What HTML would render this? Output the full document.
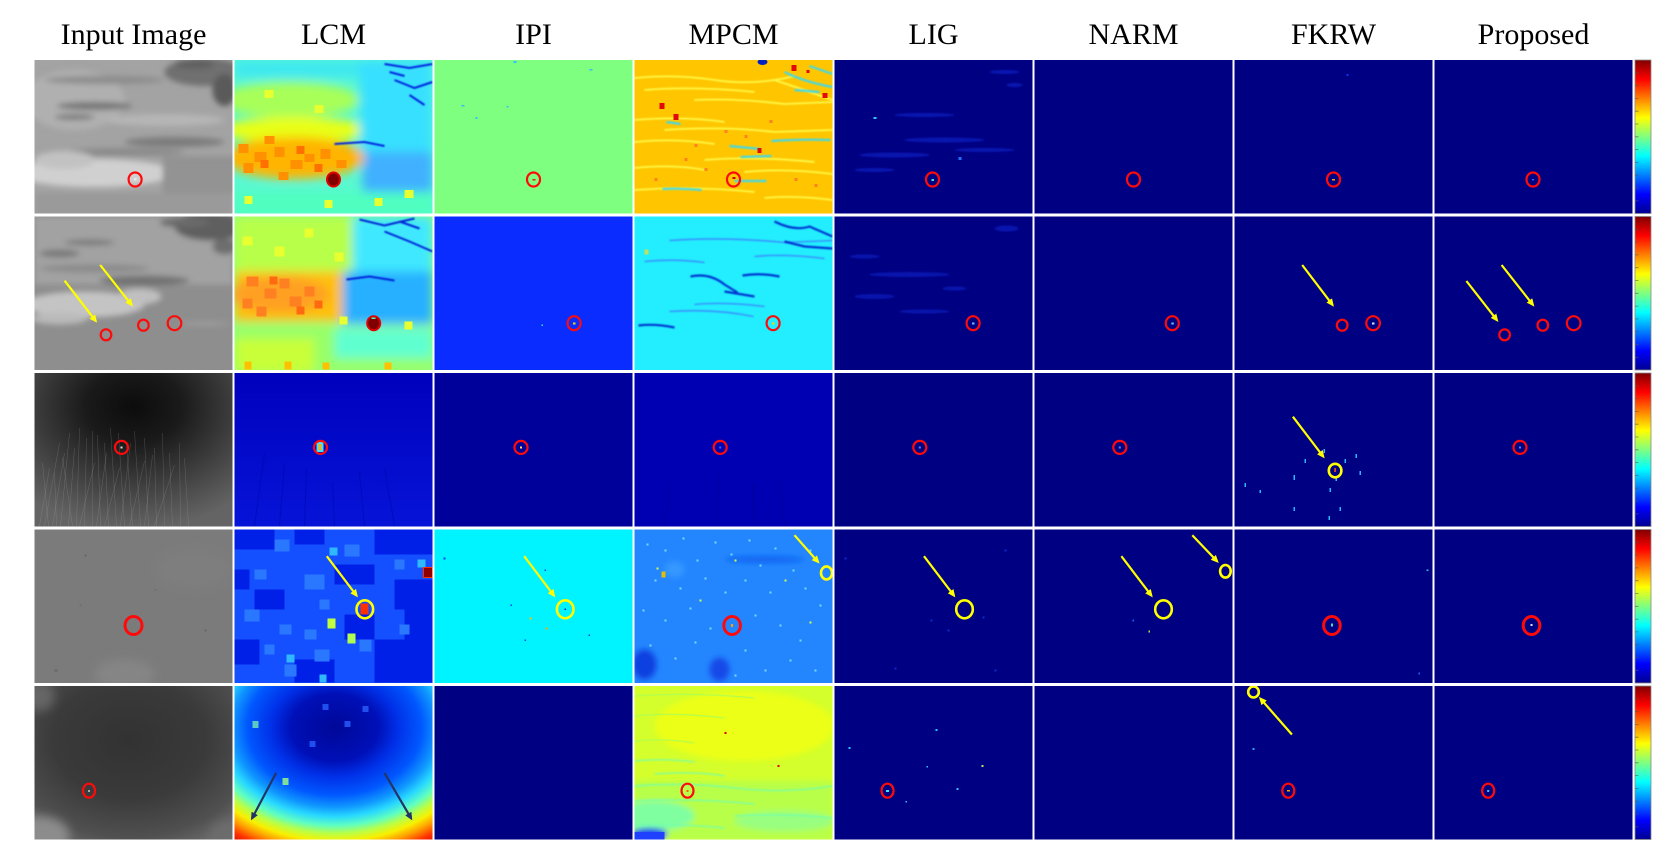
<!DOCTYPE html>
<html><head><meta charset="utf-8"><style>html,body{margin:0;padding:0;background:#fff}svg{display:block}</style></head><body>
<svg width="1678" height="850" viewBox="0 0 1678 850" xmlns="http://www.w3.org/2000/svg">
<defs>
<style>
.rc{fill:none;stroke:#ff0a0a;stroke-width:2.2}
.rc3{fill:none;stroke:#ff0a0a;stroke-width:3}
.yc{fill:none;stroke:#ffff00;stroke-width:2.6}
.ya{stroke:#ffff00;stroke-width:2.2;marker-end:url(#ay)}
.da{stroke:#233466;stroke-width:2.2;marker-end:url(#ad)}
.nv{fill:#000083}
.t{font-family:"Liberation Serif","Times New Roman",serif;font-size:30px;fill:#000;text-anchor:middle}
</style>
<filter id="b1" x="-20%" y="-20%" width="140%" height="140%"><feGaussianBlur stdDeviation="0.8"/></filter>
<filter id="b3" x="-20%" y="-20%" width="140%" height="140%"><feGaussianBlur stdDeviation="3"/></filter>
<filter id="b5" x="-20%" y="-20%" width="140%" height="140%"><feGaussianBlur stdDeviation="5"/></filter>
<linearGradient id="jet" x1="0" y1="1" x2="0" y2="0">
<stop offset="0" stop-color="#000090"/><stop offset=".125" stop-color="#0000ff"/><stop offset=".375" stop-color="#00ffff"/><stop offset=".625" stop-color="#ffff00"/><stop offset=".875" stop-color="#ff0000"/><stop offset="1" stop-color="#800000"/>
</linearGradient>
<radialGradient id="lcm5" cx=".505" cy=".27" r="1" fx=".505" fy=".27">
<stop offset="0" stop-color="#000898"/><stop offset=".22" stop-color="#0010b8"/><stop offset=".32" stop-color="#0030e8"/><stop offset=".44" stop-color="#0058ff"/><stop offset=".52" stop-color="#1098ff"/><stop offset=".58" stop-color="#28d8ff"/><stop offset=".64" stop-color="#60ffc0"/><stop offset=".69" stop-color="#b8ff48"/><stop offset=".74" stop-color="#f8f000"/><stop offset=".79" stop-color="#ffa000"/><stop offset=".85" stop-color="#ff3000"/><stop offset=".92" stop-color="#c00000"/><stop offset="1" stop-color="#800000"/>
</radialGradient>
<radialGradient id="g3" cx=".5" cy=".22" r=".8"><stop offset="0" stop-color="#0c0c0c"/><stop offset=".3" stop-color="#1a1a1a"/><stop offset=".6" stop-color="#3a3a3a"/><stop offset=".85" stop-color="#555"/><stop offset="1" stop-color="#646464"/></radialGradient>
<radialGradient id="g5" cx=".48" cy=".35" r=".85"><stop offset="0" stop-color="#323232"/><stop offset=".45" stop-color="#3a3a3a"/><stop offset=".75" stop-color="#505050"/><stop offset="1" stop-color="#7a7a7a"/></radialGradient>
<linearGradient id="g3b" x1="0" y1="0" x2="0" y2="1"><stop offset="0" stop-color="#0000bc"/><stop offset="1" stop-color="#0614d8"/></linearGradient>
<marker id="ay" viewBox="0 0 10 10" refX="7" refY="5" markerWidth="3.6" markerHeight="3.6" orient="auto"><path d="M0,0.5 L10,5 L0,9.5 z" fill="#ffff00"/></marker>
<marker id="ad" viewBox="0 0 10 10" refX="7" refY="5" markerWidth="3.6" markerHeight="3.6" orient="auto"><path d="M0,0.5 L10,5 L0,9.5 z" fill="#233466"/></marker>
</defs>
<rect width="1678" height="850" fill="#fff"/>

<!-- titles -->
<text class="t" x="133.5" y="44">Input Image</text>
<text class="t" x="333.5" y="44">LCM</text>
<text class="t" x="533.5" y="44">IPI</text>
<text class="t" x="733.5" y="44">MPCM</text>
<text class="t" x="933.5" y="44">LIG</text>
<text class="t" x="1133.5" y="44">NARM</text>
<text class="t" x="1333.5" y="44">FKRW</text>
<text class="t" x="1533.5" y="44">Proposed</text>

<!-- ================= ROW 1 ================= -->
<svg x="34.5" y="60" width="198" height="153.5" viewBox="0 0 198 153.5">
<rect width="198" height="153.5" fill="#a3a3a3"/>
<g filter="url(#b3)">
<ellipse cx="40" cy="40" rx="50" ry="30" fill="#b0b0b0"/>
<ellipse cx="170" cy="12" rx="40" ry="14" fill="#707070"/>
<ellipse cx="190" cy="30" rx="12" ry="16" fill="#5a5a5a"/>
<ellipse cx="160" cy="4" rx="20" ry="5" fill="#606060"/>
<ellipse cx="70" cy="20" rx="60" ry="4" fill="#8c8c8c"/>
<ellipse cx="60" cy="46" rx="38" ry="4" fill="#767676"/>
<ellipse cx="40" cy="57" rx="20" ry="3" fill="#7c7c7c"/>
<ellipse cx="130" cy="60" rx="60" ry="6" fill="#b6b6b6"/>
<ellipse cx="140" cy="82" rx="50" ry="5" fill="#7c7c7c"/>
<ellipse cx="90" cy="92" rx="60" ry="4" fill="#8a8a8a"/>
<ellipse cx="60" cy="113" rx="80" ry="14" fill="#d0d0d0"/>
<ellipse cx="30" cy="100" rx="30" ry="9" fill="#c2c2c2"/>
<rect x="128" y="96" width="80" height="38" fill="#939393"/>
<rect x="0" y="133" width="198" height="25" fill="#9a9a9a"/>
</g>
<ellipse class="rc" cx="100.6" cy="119.5" rx="6.5" ry="7"/>
<rect x="99.5" y="118" width="2.5" height="2.5" fill="#e8e8e8"/>
</svg>

<svg x="234.5" y="60" width="198" height="153.5" viewBox="0 0 198 153.5">
<rect width="198" height="153.5" fill="#58f8d0"/>
<g filter="url(#b5)">
<rect x="0" y="0" width="198" height="18" fill="#40e8f0"/>
<ellipse cx="55" cy="40" rx="70" ry="18" fill="#a8ff58"/>
<ellipse cx="60" cy="70" rx="75" ry="13" fill="#e8ff18"/>
<rect x="125" y="0" width="73" height="95" fill="#38e0ff"/>
<rect x="128" y="92" width="70" height="42" fill="#40b0ff"/>
<ellipse cx="60" cy="98" rx="70" ry="21" fill="#ffb400"/>
<rect x="0" y="132" width="198" height="25" fill="#50ffc0"/>
</g>
<g fill="#ff9000">
<rect x="4" y="84" width="10" height="9"/><rect x="20" y="92" width="12" height="10"/><rect x="40" y="87" width="10" height="10"/>
<rect x="56" y="100" width="12" height="9"/><rect x="9" y="103" width="10" height="10"/><rect x="70" y="94" width="10" height="8"/>
<rect x="86" y="89" width="10" height="10"/><rect x="30" y="76" width="10" height="8"/><rect x="102" y="100" width="10" height="8"/>
<rect x="44" y="112" width="10" height="8"/></g>
<g fill="#ff7000"><rect x="26" y="100" width="8" height="8"/><rect x="62" y="86" width="8" height="8"/><rect x="80" y="104" width="8" height="8"/></g>
<g fill="#e8ff30"><rect x="10" y="136" width="8" height="8"/><rect x="140" y="138" width="8" height="8"/><rect x="170" y="130" width="9" height="8"/><rect x="90" y="140" width="8" height="8"/><rect x="30" y="30" width="9" height="8"/><rect x="80" y="45" width="9" height="8"/></g>
<g fill="none" stroke="#0020e0" stroke-width="2" filter="url(#b1)">
<path d="M150 4 L175 8 L198 4"/><path d="M160 20 L180 28 L198 22"/><path d="M175 35 L190 45"/><path d="M100 84 L130 82 L150 86"/><path d="M155 12 L170 16"/>
</g>
<ellipse cx="99" cy="119.5" rx="6.5" ry="7" fill="#800000" stroke="#e00000" stroke-width="2"/>
</svg>

<svg x="434.5" y="60" width="198" height="153.5" viewBox="0 0 198 153.5">
<rect width="198" height="153.5" fill="#7fff7f"/>
<g fill="#30c0ff"><rect x="79" y="1" width="3" height="2"/><rect x="27" y="45" width="3" height="1.5"/><rect x="72" y="46" width="2" height="1.5"/><rect x="41" y="57" width="2" height="2"/><rect x="155" y="9" width="3" height="1.5"/></g>
<ellipse class="rc" cx="99" cy="119.5" rx="6.5" ry="7"/>
<rect x="98" y="119" width="3" height="1.5" fill="#e02000"/>
</svg>

<svg x="634.5" y="60" width="198" height="153.5" viewBox="0 0 198 153.5">
<rect width="198" height="153.5" fill="#ffc600"/>
<g fill="none" stroke="#ffff50" stroke-width="1.8" opacity=".9" filter="url(#b1)">
<path d="M0 18 Q40 14 80 20 T160 16"/><path d="M10 30 Q60 26 120 32"/><path d="M60 40 Q100 38 150 44 L198 42"/>
<path d="M0 60 Q50 56 90 62"/><path d="M30 70 Q90 66 140 72 L198 70"/><path d="M0 82 Q40 78 80 84"/>
<path d="M70 100 Q120 96 180 102"/><path d="M0 108 Q40 104 70 110"/><path d="M110 112 Q150 108 198 114"/>
<path d="M0 130 Q60 126 120 132"/><path d="M130 138 Q160 135 198 140"/><path d="M140 20 Q170 30 198 40"/>
</g>
<g fill="none" stroke="#40d8e8" stroke-width="2.2" filter="url(#b1)">
<path d="M95 86 L126 89"/><path d="M137 81 Q165 79 196 80"/><path d="M106 97 L137 96"/><path d="M100 121 L132 121"/>
<path d="M28 129 Q45 128 67 130"/><path d="M150 12 Q170 22 198 27"/><path d="M160 30 L185 32"/><path d="M175 6 L198 14"/><path d="M32 62 L46 64"/>
</g>
<g fill="#e00a0a"><rect x="25" y="43" width="5" height="6"/><rect x="39" y="54" width="5" height="6"/><rect x="157" y="5" width="5" height="6"/><rect x="188" y="33" width="5" height="5"/><rect x="123" y="88" width="4" height="5"/><rect x="172" y="10" width="3" height="3"/></g>
<g fill="#ff8020"><rect x="70" y="108" width="3" height="3"/><rect x="50" y="98" width="3" height="3"/><rect x="90" y="70" width="3" height="3"/><rect x="110" y="75" width="3" height="3"/><rect x="135" y="60" width="3" height="3"/><rect x="20" y="118" width="3" height="3"/><rect x="180" y="124" width="3" height="3"/><rect x="60" y="84" width="3" height="3"/><rect x="160" y="118" width="3" height="3"/></g>
<ellipse cx="128" cy="2" rx="5" ry="3" fill="#0020c0"/>
<ellipse class="rc" cx="99" cy="119.5" rx="6.5" ry="7"/>
<rect x="98" y="117" width="3" height="2" fill="#d00000"/>
</svg>

<svg x="834.5" y="60" width="198" height="153.5" viewBox="0 0 198 153.5">
<rect class="nv" width="198" height="153.5"/>
<g fill="#1838f0" opacity=".4" filter="url(#b1)">
<ellipse cx="110" cy="80" rx="40" ry="2.5"/><ellipse cx="60" cy="95" rx="35" ry="2.5"/><ellipse cx="150" cy="90" rx="30" ry="2"/><ellipse cx="40" cy="110" rx="20" ry="2"/><ellipse cx="170" cy="12" rx="15" ry="2"/><ellipse cx="90" cy="55" rx="30" ry="2"/><ellipse cx="180" cy="25" rx="8" ry="2"/>
</g>
<rect x="39" y="57" width="3" height="2" fill="#30c8ff"/><rect x="124" y="97" width="3" height="3" fill="#2070ff"/>
<ellipse class="rc" cx="98" cy="119.5" rx="6.5" ry="7"/>
<rect x="97" y="119" width="2.5" height="2" fill="#40e0e0"/>
</svg>

<svg x="1034.5" y="60" width="198" height="153.5" viewBox="0 0 198 153.5">
<rect class="nv" width="198" height="153.5"/>
<ellipse class="rc" cx="99" cy="119.5" rx="6.5" ry="7"/>
</svg>
<svg x="1234.5" y="60" width="198" height="153.5" viewBox="0 0 198 153.5">
<rect class="nv" width="198" height="153.5"/>
<rect x="112" y="14" width="2" height="2" fill="#1030ff"/>
<ellipse class="rc" cx="99" cy="119.5" rx="6.5" ry="7"/>
<rect x="97.5" y="119" width="3" height="1.5" fill="#ffa000"/>
</svg>
<svg x="1434.5" y="60" width="198" height="153.5" viewBox="0 0 198 153.5">
<rect class="nv" width="198" height="153.5"/>
<ellipse class="rc" cx="98.5" cy="119.5" rx="6.5" ry="7"/>
<rect x="97.5" y="119" width="2" height="1.5" fill="#3060ff"/>
</svg>

<!-- ================= ROW 2 ================= -->
<svg x="34.5" y="216.5" width="198" height="153.5" viewBox="0 0 198 153.5">
<rect width="198" height="153.5" fill="#8e8e8e"/>
<g filter="url(#b3)">
<rect x="0" y="0" width="198" height="68" fill="#a2a2a2"/>
<ellipse cx="175" cy="10" rx="35" ry="14" fill="#5e5e5e"/>
<ellipse cx="150" cy="6" rx="25" ry="5" fill="#6a6a6a"/>
<ellipse cx="190" cy="30" rx="12" ry="8" fill="#6e6e6e"/>
<ellipse cx="55" cy="26" rx="25" ry="3" fill="#7a7a7a"/>
<ellipse cx="25" cy="37" rx="20" ry="4" fill="#7a7a7a"/>
<ellipse cx="110" cy="64" rx="45" ry="5" fill="#727272"/>
<ellipse cx="60" cy="52" rx="55" ry="4" fill="#8a8a8a"/>
<ellipse cx="50" cy="88" rx="60" ry="13" fill="#c4c4c4"/>
<ellipse cx="25" cy="102" rx="28" ry="6" fill="#bababa"/>
<ellipse cx="105" cy="80" rx="22" ry="8" fill="#c0c0c0"/>
<ellipse cx="170" cy="107" rx="25" ry="1.5" fill="#a4a4a4"/>
</g>
<line class="ya" x1="30.1" y1="64.2" x2="61.2" y2="104.4"/>
<line class="ya" x1="65.7" y1="48.5" x2="97" y2="88.3"/>
<ellipse class="rc" cx="71.5" cy="118.3" rx="5.3" ry="5.5"/>
<ellipse class="rc" cx="108.9" cy="108.7" rx="5.3" ry="5.5"/>
<ellipse class="rc" cx="140" cy="106.7" rx="6.8" ry="7"/>
</svg>

<svg x="234.5" y="216.5" width="198" height="153.5" viewBox="0 0 198 153.5">
<rect width="198" height="153.5" fill="#90ff80"/>
<g filter="url(#b5)">
<rect x="0" y="0" width="120" height="55" fill="#b8ff48"/>
<rect x="118" y="0" width="80" height="55" fill="#40e8ff"/>
<rect x="0" y="55" width="108" height="50" fill="#ffc010"/>
<ellipse cx="45" cy="78" rx="50" ry="18" fill="#ffa020"/>
<rect x="108" y="55" width="90" height="55" fill="#28b0ff"/>
<rect x="0" y="108" width="198" height="47" fill="#98ff68"/>
<rect x="100" y="112" width="98" height="30" fill="#60ffd0"/>
<rect x="0" y="122" width="80" height="35" fill="#c8ff38"/>
</g>
<g fill="#ff8020"><rect x="12" y="60" width="12" height="10"/><rect x="30" y="72" width="12" height="10"/><rect x="45" y="62" width="10" height="10"/><rect x="8" y="82" width="10" height="10"/><rect x="55" y="80" width="12" height="10"/><rect x="70" y="70" width="10" height="10"/><rect x="22" y="90" width="10" height="10"/></g>
<g fill="#ff6a10"><rect x="35" y="60" width="8" height="8"/><rect x="62" y="90" width="8" height="8"/><rect x="80" y="84" width="8" height="8"/></g>
<g fill="#e8ff30"><rect x="8" y="20" width="10" height="9"/><rect x="40" y="30" width="10" height="10"/><rect x="70" y="12" width="9" height="9"/><rect x="100" y="36" width="9" height="9"/><rect x="105" y="100" width="8" height="8"/><rect x="170" y="105" width="8" height="8"/></g>
<g fill="#ffc000"><rect x="10" y="145" width="7" height="8"/><rect x="50" y="145" width="7" height="8"/><rect x="88" y="146" width="7" height="7"/><rect x="150" y="146" width="7" height="7"/></g>
<g fill="none" stroke="#0020d8" stroke-width="2" filter="url(#b1)">
<path d="M125 3 L150 9 L180 2"/><path d="M150 15 L175 25 L198 35"/><path d="M112 63 L135 60 L160 64"/><path d="M165 5 L185 12"/>
</g>
<ellipse cx="139.2" cy="106.7" rx="6.5" ry="7" fill="#800000" stroke="#e00000" stroke-width="2"/>
<rect x="137" y="101" width="4" height="1.5" fill="#40ffc0"/>
</svg>

<svg x="434.5" y="216.5" width="198" height="153.5" viewBox="0 0 198 153.5">
<rect width="198" height="153.5" fill="#0a2cff"/>
<ellipse class="rc" cx="139.6" cy="106.7" rx="6.5" ry="7"/>
<rect x="138.5" y="106" width="2.5" height="2" fill="#ffd000"/>
<rect x="107" y="108" width="1.5" height="1.5" fill="#40e0c0"/>
</svg>

<svg x="634.5" y="216.5" width="198" height="153.5" viewBox="0 0 198 153.5">
<rect width="198" height="153.5" fill="#22eeff"/>
<g fill="none" stroke="#3890ff" stroke-width="1.6" filter="url(#b1)">
<path d="M35 24 Q90 20 150 26 L198 24"/><path d="M35 95 Q80 92 119 100"/><path d="M10 45 Q40 42 70 46"/><path d="M60 88 Q90 85 130 90"/><path d="M120 40 Q150 37 190 42"/>
</g>
<g fill="none" stroke="#0030d0" stroke-width="2.2" filter="url(#b1)">
<path d="M56 60 Q75 56 90 68 L103 76"/><path d="M108 59 Q125 56 145 60"/><path d="M4 109 Q20 107 40 111"/><path d="M140 5 Q160 15 175 10 L198 20"/><path d="M150 25 L170 30 L198 32"/><path d="M90 75 L120 80"/>
</g>
<rect x="10" y="33" width="4" height="5" fill="#c0e060"/>
<ellipse class="rc" cx="138.6" cy="106.7" rx="6.5" ry="7"/>
<rect x="137.5" y="106" width="2.5" height="2" fill="#ffd000"/>
</svg>

<svg x="834.5" y="216.5" width="198" height="153.5" viewBox="0 0 198 153.5">
<rect class="nv" width="198" height="153.5"/>
<g fill="#1838f0" opacity=".38" filter="url(#b1)">
<ellipse cx="75" cy="58" rx="40" ry="2.5"/><ellipse cx="40" cy="80" rx="20" ry="2.5"/><ellipse cx="120" cy="72" rx="12" ry="2"/><ellipse cx="172" cy="12" rx="12" ry="3"/><ellipse cx="30" cy="40" rx="15" ry="2"/><ellipse cx="90" cy="95" rx="25" ry="2"/>
</g>
<ellipse class="rc" cx="138.6" cy="106.7" rx="6.5" ry="7"/>
<rect x="137.5" y="106" width="2.5" height="2" fill="#60c0ff"/>
</svg>

<svg x="1034.5" y="216.5" width="198" height="153.5" viewBox="0 0 198 153.5">
<rect class="nv" width="198" height="153.5"/>
<ellipse class="rc" cx="137.8" cy="106.7" rx="6.5" ry="7"/>
<rect x="136.8" y="106" width="2.5" height="2" fill="#60c0ff"/>
</svg>

<svg x="1234.5" y="216.5" width="198" height="153.5" viewBox="0 0 198 153.5">
<rect class="nv" width="198" height="153.5"/>
<line class="ya" x1="67.7" y1="48.5" x2="98" y2="88.3"/>
<ellipse class="rc" cx="107.7" cy="108.7" rx="5.3" ry="5.5"/>
<ellipse class="rc" cx="138.6" cy="106.7" rx="6.8" ry="7"/>
<rect x="137.5" y="106" width="2.5" height="2" fill="#e0e0ff"/>
</svg>

<svg x="1434.5" y="216.5" width="198" height="153.5" viewBox="0 0 198 153.5">
<rect class="nv" width="198" height="153.5"/>
<line class="ya" x1="31.9" y1="64.5" x2="62.4" y2="103.6"/>
<line class="ya" x1="67.1" y1="48.5" x2="98.4" y2="88.3"/>
<ellipse class="rc" cx="70.1" cy="118.3" rx="5.3" ry="5.5"/>
<ellipse class="rc" cx="108.3" cy="108.7" rx="5.3" ry="5.5"/>
<ellipse class="rc" cx="139.2" cy="106.7" rx="6.8" ry="7"/>
</svg>

<!-- ================= ROW 3 ================= -->
<svg x="34.5" y="373" width="198" height="153.5" viewBox="0 0 198 153.5">
<rect width="198" height="153.5" fill="url(#g3)"/>
<g stroke="#a8a8a8" stroke-width=".5" opacity=".35" fill="none">
<path d="M10 153 L25 70 M18 153 L30 80 M26 153 L35 60 M34 153 L40 75 M42 153 L45 55 M50 153 L52 65 M58 153 L58 58 M66 153 L63 62 M74 153 L70 70 M82 153 L76 55 M90 153 L84 60 M98 153 L92 72 M106 153 L100 58 M114 153 L110 65 M122 153 L120 75 M130 153 L128 60 M138 153 L135 80 M146 153 L145 70 M154 153 L150 85 M5 153 L15 95 M22 153 L20 100 M45 153 L60 90 M70 153 L85 95 M95 153 L110 88 M120 153 L140 92 M14 153 L8 90 M38 153 L28 85 M62 153 L72 80 M86 153 L96 70 M110 153 L118 82"/>
</g>
<ellipse class="rc" cx="87" cy="74.4" rx="6.5" ry="6.5"/>
<rect x="86" y="73.5" width="2" height="2" fill="#ddd"/>
</svg>

<svg x="234.5" y="373" width="198" height="153.5" viewBox="0 0 198 153.5">
<rect width="198" height="153.5" fill="url(#g3b)"/>
<g stroke="#0000a0" stroke-width="1" opacity=".4"><path d="M20 153 L30 80 M45 153 L50 90 M70 153 L72 95 M130 153 L125 100 M160 153 L150 95 M100 153 L98 110"/></g>
<rect x="82" y="69" width="7" height="10" fill="#40e0ff"/><rect x="84" y="71" width="3" height="6" fill="#ffb000"/>
<ellipse class="rc" cx="86" cy="74.4" rx="6.5" ry="6.5"/>
</svg>

<svg x="434.5" y="373" width="198" height="153.5" viewBox="0 0 198 153.5">
<rect width="198" height="153.5" fill="#00009a"/>
<ellipse class="rc" cx="86.5" cy="74.4" rx="6.5" ry="6.5"/>
<rect x="85.5" y="73.5" width="2" height="2" fill="#ffe060"/>
</svg>

<svg x="634.5" y="373" width="198" height="153.5" viewBox="0 0 198 153.5">
<rect width="198" height="153.5" fill="#0000b2"/>
<g stroke="#000090" stroke-width="1" opacity=".6"><path d="M80 153 L85 100 M120 153 L118 110 M150 153 L145 105 M30 153 L35 110"/></g>
<ellipse class="rc" cx="85.7" cy="74.4" rx="6.5" ry="6.5"/>
<rect x="84.7" y="73.5" width="2" height="2" fill="#3060ff"/>
</svg>

<svg x="834.5" y="373" width="198" height="153.5" viewBox="0 0 198 153.5">
<rect class="nv" width="198" height="153.5"/>
<ellipse class="rc" cx="85.3" cy="74.4" rx="6.5" ry="6.5"/>
<rect x="84.3" y="73.5" width="2" height="2" fill="#5080ff"/>
</svg>
<svg x="1034.5" y="373" width="198" height="153.5" viewBox="0 0 198 153.5">
<rect class="nv" width="198" height="153.5"/>
<ellipse class="rc" cx="85.3" cy="74.4" rx="6.5" ry="6.5"/>
<rect x="84.3" y="73.5" width="2" height="2" fill="#5080ff"/>
</svg>
<svg x="1234.5" y="373" width="198" height="153.5" viewBox="0 0 198 153.5">
<rect class="nv" width="198" height="153.5"/>
<g fill="#28b8ff"><rect x="70" y="86" width="1.5" height="4"/><rect x="89" y="76" width="1.5" height="4"/><rect x="110" y="86" width="1.5" height="4"/><rect x="121" y="81" width="1.5" height="4"/><rect x="59" y="102" width="1.5" height="5"/><rect x="10" y="110" width="1.5" height="4"/><rect x="25" y="117" width="1.5" height="3"/><rect x="95" y="115" width="1.5" height="4"/><rect x="105" y="134" width="1.5" height="4"/><rect x="94" y="143" width="1.5" height="4"/><rect x="59" y="134" width="1.5" height="4"/><rect x="125" y="98" width="1.5" height="4"/><rect x="101" y="104" width="1.5" height="4"/></g>
<line class="ya" x1="58.4" y1="43.7" x2="88.7" y2="83.5"/>
<ellipse class="yc" cx="100.6" cy="97.6" rx="6.3" ry="6.8"/>
<rect x="99.8" y="95" width="1.5" height="4" fill="#ff6000"/>
</svg>
<svg x="1434.5" y="373" width="198" height="153.5" viewBox="0 0 198 153.5">
<rect class="nv" width="198" height="153.5"/>
<ellipse class="rc" cx="85.5" cy="74.4" rx="6.5" ry="6.5"/>
<rect x="84.5" y="73.5" width="2" height="2" fill="#5080ff"/>
</svg>

<!-- ================= ROW 4 ================= -->
<svg x="34.5" y="529.5" width="198" height="153.5" viewBox="0 0 198 153.5">
<rect width="198" height="153.5" fill="#7b7b7b"/>
<g filter="url(#b5)"><ellipse cx="90" cy="145" rx="30" ry="15" fill="#858585"/><ellipse cx="160" cy="40" rx="40" ry="20" fill="#7e7e7e"/></g>
<g fill="#666"><rect x="50" y="25" width="2" height="2"/><rect x="120" y="60" width="2" height="1"/><rect x="20" y="140" width="3" height="2"/><rect x="170" y="100" width="2" height="2"/><rect x="45" y="75" width="2" height="1"/></g>
<ellipse class="rc3" cx="99" cy="96" rx="8.5" ry="9"/>
</svg>

<svg x="234.5" y="529.5" width="198" height="153.5" viewBox="0 0 198 153.5">
<rect width="198" height="153.5" fill="#1450ff"/>
<g fill="#0020e8">
<rect x="0" y="0" width="40" height="20"/><rect x="60" y="0" width="30" height="15"/><rect x="140" y="0" width="58" height="25"/><rect x="100" y="35" width="40" height="20"/><rect x="160" y="50" width="38" height="30"/><rect x="20" y="60" width="30" height="20"/><rect x="0" y="110" width="25" height="25"/><rect x="140" y="110" width="58" height="43"/><rect x="60" y="130" width="40" height="23"/><rect x="110" y="85" width="30" height="25"/><rect x="170" y="80" width="28" height="30"/><rect x="0" y="40" width="15" height="20"/>
</g>
<g fill="#2a78ff">
<rect x="40" y="10" width="15" height="12"/><rect x="110" y="15" width="15" height="12"/><rect x="20" y="40" width="12" height="10"/><rect x="70" y="45" width="20" height="15"/><rect x="10" y="80" width="15" height="12"/><rect x="45" y="95" width="12" height="10"/><rect x="80" y="120" width="15" height="12"/><rect x="50" y="135" width="12" height="12"/><rect x="160" y="30" width="10" height="10"/><rect x="125" y="110" width="12" height="12"/><rect x="85" y="70" width="10" height="10"/><rect x="165" y="95" width="10" height="10"/><rect x="30" y="115" width="10" height="10"/><rect x="70" y="100" width="12" height="10"/>
</g>
<g fill="#30b8ff"><rect x="52" y="125" width="8" height="8"/><rect x="95" y="18" width="8" height="8"/><rect x="183" y="30" width="8" height="8"/><rect x="85" y="145" width="7" height="8"/></g>
<rect x="93" y="89" width="8" height="10" fill="#c0ff40"/>
<rect x="113" y="104" width="8" height="10" fill="#b0ff50"/>
<rect x="189" y="38" width="9" height="10" fill="#900000" stroke="#ff3000" stroke-width="1"/>
<rect x="126" y="74" width="8" height="11" fill="#ff3000"/>
<line class="ya" x1="92.3" y1="26.7" x2="122" y2="66"/>
<ellipse class="yc" cx="130.3" cy="79.8" rx="8.3" ry="9"/>
</svg>

<svg x="434.5" y="529.5" width="198" height="153.5" viewBox="0 0 198 153.5">
<rect width="198" height="153.5" fill="#00f4ff"/>
<g fill="#0040ff"><rect x="9" y="28" width="2" height="2"/><rect x="76" y="75" width="1.5" height="1.5"/><rect x="154" y="105" width="1.5" height="1.5"/><rect x="110" y="40" width="1.5" height="1.5"/><rect x="90" y="110" width="1.5" height="1.5"/></g>
<rect x="95" y="88" width="2" height="2" fill="#ffc000"/><rect x="111" y="98" width="2" height="2" fill="#ffa000"/>
<line class="ya" x1="89.7" y1="26.7" x2="119.4" y2="66"/>
<ellipse class="yc" cx="130.7" cy="79.8" rx="8.3" ry="9"/>
<rect x="130" y="79" width="1.5" height="1.5" fill="#0030c0"/>
</svg>

<svg x="634.5" y="529.5" width="198" height="153.5" viewBox="0 0 198 153.5">
<rect width="198" height="153.5" fill="#2486ff"/>
<g filter="url(#b3)"><ellipse cx="10" cy="135" rx="12" ry="15" fill="#1040e0"/><ellipse cx="85" cy="140" rx="10" ry="12" fill="#1848e8"/><ellipse cx="130" cy="30" rx="40" ry="3" fill="#1060f0"/><ellipse cx="40" cy="40" rx="10" ry="8" fill="#3498ff"/></g>
<g fill="#7ad8ff">
<rect x="12" y="14" width="2" height="2"/><rect x="30" y="20" width="2" height="2"/><rect x="48" y="8" width="2" height="2"/><rect x="62" y="30" width="2" height="2"/><rect x="80" y="12" width="2" height="2"/><rect x="96" y="24" width="2" height="2"/><rect x="114" y="10" width="2" height="2"/><rect x="140" y="18" width="2" height="2"/><rect x="158" y="40" width="2" height="2"/><rect x="20" y="50" width="2" height="2"/><rect x="45" y="58" width="2" height="2"/><rect x="70" y="48" width="2" height="2"/><rect x="90" y="62" width="2" height="2"/><rect x="110" y="50" width="2" height="2"/><rect x="135" y="62" width="2" height="2"/><rect x="170" y="58" width="2" height="2"/><rect x="185" y="75" width="2" height="2"/><rect x="8" y="80" width="2" height="2"/><rect x="30" y="90" width="2" height="2"/><rect x="55" y="78" width="2" height="2"/><rect x="75" y="98" width="2" height="2"/><rect x="120" y="85" width="2" height="2"/><rect x="145" y="95" width="2" height="2"/><rect x="165" y="110" width="2" height="2"/><rect x="15" y="115" width="2" height="2"/><rect x="40" y="128" width="2" height="2"/><rect x="60" y="112" width="2" height="2"/><rect x="110" y="120" width="2" height="2"/><rect x="130" y="140" width="2" height="2"/><rect x="155" y="130" width="2" height="2"/><rect x="180" y="140" width="2" height="2"/><rect x="100" y="145" width="2" height="2"/><rect x="175" y="20" width="2" height="2"/><rect x="125" y="35" width="2" height="2"/>
</g>
<g fill="#d0ff50"><rect x="22" y="38" width="2" height="2"/><rect x="150" y="50" width="2" height="2"/><rect x="65" y="70" width="2" height="2"/><rect x="175" y="92" width="2" height="2"/><rect x="100" y="30" width="2" height="2"/></g>
<rect x="27" y="42" width="4" height="6" fill="#e0c000"/>
<line class="ya" x1="160" y1="5.7" x2="183.5" y2="32.4"/>
<ellipse class="yc" cx="192" cy="43.4" rx="5.5" ry="6.5"/>
<ellipse class="rc3" cx="97.6" cy="96" rx="8.3" ry="9"/>
<rect x="96.5" y="94.5" width="2" height="3" fill="#ffa000"/>
</svg>

<svg x="834.5" y="529.5" width="198" height="153.5" viewBox="0 0 198 153.5">
<rect class="nv" width="198" height="153.5"/>
<g fill="#1838f0" opacity=".7"><rect x="96" y="90" width="2" height="2"/><rect x="113" y="100" width="2" height="2"/><rect x="148" y="87" width="2" height="2"/><rect x="10" y="28" width="2" height="2"/><rect x="170" y="20" width="2" height="2"/><rect x="160" y="140" width="2" height="2"/><rect x="60" y="138" width="2" height="2"/></g>
<line class="ya" x1="89.5" y1="26.7" x2="119.4" y2="66"/>
<ellipse class="yc" cx="130" cy="79.8" rx="8.3" ry="9"/>
</svg>

<svg x="1034.5" y="529.5" width="198" height="153.5" viewBox="0 0 198 153.5">
<rect class="nv" width="198" height="153.5"/>
<rect x="98" y="90" width="1.5" height="2" fill="#2060ff"/><rect x="114" y="101" width="1.5" height="2" fill="#c0e040"/>
<line class="ya" x1="86.9" y1="26.7" x2="116.8" y2="66"/>
<ellipse class="yc" cx="129" cy="79.8" rx="8.3" ry="9"/>
<line class="ya" x1="157.8" y1="5.7" x2="182.6" y2="31.8"/>
<ellipse class="yc" cx="190.9" cy="41.8" rx="5.3" ry="6.3"/>
</svg>

<svg x="1234.5" y="529.5" width="198" height="153.5" viewBox="0 0 198 153.5">
<rect class="nv" width="198" height="153.5"/>
<rect x="192" y="40" width="2" height="1.5" fill="#30c0c0"/><rect x="184" y="143" width="1.5" height="2" fill="#2060ff"/>
<ellipse class="rc3" cx="97.4" cy="96" rx="8.3" ry="9"/>
<rect x="96.5" y="94" width="2" height="3" fill="#40e0c0"/>
</svg>

<svg x="1434.5" y="529.5" width="198" height="153.5" viewBox="0 0 198 153.5">
<rect class="nv" width="198" height="153.5"/>
<ellipse class="rc3" cx="97" cy="96" rx="8.3" ry="9"/>
<rect x="96" y="94.5" width="2" height="2" fill="#e0e0ff"/>
</svg>

<!-- ================= ROW 5 ================= -->
<svg x="34.5" y="686" width="198" height="153.5" viewBox="0 0 198 153.5">
<rect width="198" height="153.5" fill="url(#g5)"/>
<g filter="url(#b5)"><ellipse cx="5" cy="150" rx="30" ry="20" fill="#8c8c8c"/><ellipse cx="195" cy="150" rx="20" ry="15" fill="#6c6c6c"/><ellipse cx="5" cy="10" rx="15" ry="15" fill="#656565"/></g>
<ellipse class="rc" cx="54.5" cy="104.7" rx="6" ry="7"/>
<rect x="53.5" y="104" width="2" height="2" fill="#aaa"/>
</svg>

<svg x="234.5" y="686" width="198" height="153.5" viewBox="0 0 198 153.5">
<rect width="198" height="153.5" fill="url(#lcm5)"/>
<g fill="#2a60ff" opacity=".8"><rect x="88" y="18" width="6" height="6"/><rect x="110" y="35" width="6" height="6"/><rect x="75" y="55" width="6" height="6"/><rect x="128" y="20" width="6" height="6"/></g>
<rect x="18" y="35" width="6" height="7" fill="#80ffb0" opacity=".7"/>
<rect x="48" y="92" width="6" height="7" fill="#a0ff80" opacity=".8"/>
<line class="da" x1="41.6" y1="86.9" x2="17.6" y2="132.3"/>
<line class="da" x1="150" y1="86.9" x2="176.6" y2="132.3"/>
</svg>

<svg x="434.5" y="686" width="198" height="153.5" viewBox="0 0 198 153.5">
<rect class="nv" width="198" height="153.5"/>
</svg>

<svg x="634.5" y="686" width="198" height="153.5" viewBox="0 0 198 153.5">
<rect width="198" height="153.5" fill="#d4ff2c"/>
<g filter="url(#b3)">
<ellipse cx="110" cy="40" rx="90" ry="35" fill="#ecff18"/>
<rect x="0" y="95" width="198" height="60" fill="#b8ff48"/>
<ellipse cx="20" cy="130" rx="40" ry="15" fill="#80ffa0"/>
<ellipse cx="150" cy="135" rx="50" ry="10" fill="#98ff80"/>
<ellipse cx="15" cy="148" rx="18" ry="6" fill="#1040f0"/>
</g>
<g fill="none" stroke="#70ffb0" stroke-width="1.5" opacity=".8" filter="url(#b1)">
<path d="M0 100 Q50 96 100 102 T198 100"/><path d="M0 115 Q60 112 120 118"/><path d="M20 88 Q60 85 90 90"/><path d="M100 130 Q150 127 198 132"/><path d="M0 140 Q40 137 90 142"/><path d="M0 75 Q30 72 60 76"/>
</g>
<g fill="none" stroke="#b0ff50" stroke-width="1.5" opacity=".8"><path d="M0 10 Q60 6 120 12"/><path d="M0 30 Q40 26 90 32"/><path d="M0 55 Q30 52 60 57"/></g>
<rect x="0" y="146" width="30" height="8" fill="#2040ff"/>
<rect x="90" y="46" width="2" height="2" fill="#e00000"/><rect x="143" y="79" width="2" height="2" fill="#e00000"/>
<ellipse class="rc" cx="53" cy="104.7" rx="6" ry="7"/>
<rect x="52" y="104" width="2" height="2" fill="#ff6000"/>
</svg>

<svg x="834.5" y="686" width="198" height="153.5" viewBox="0 0 198 153.5">
<rect class="nv" width="198" height="153.5"/>
<g fill="#30c0ff"><rect x="101" y="43" width="2" height="2"/><rect x="14" y="61" width="2" height="2"/><rect x="122" y="102" width="2" height="2"/><rect x="71" y="115" width="1.5" height="1.5"/><rect x="92" y="80" width="1.5" height="1.5"/></g>
<rect x="147" y="79" width="2" height="2" fill="#c0e060"/>
<ellipse class="rc" cx="53" cy="104.7" rx="6" ry="7"/>
<rect x="51.5" y="104" width="3" height="2" fill="#40e0ff"/>
</svg>

<svg x="1034.5" y="686" width="198" height="153.5" viewBox="0 0 198 153.5">
<rect class="nv" width="198" height="153.5"/>
</svg>

<svg x="1234.5" y="686" width="198" height="153.5" viewBox="0 0 198 153.5">
<rect class="nv" width="198" height="153.5"/>
<rect x="18" y="62" width="2" height="2" fill="#30a0ff"/>
<line class="ya" x1="57.4" y1="48.5" x2="26" y2="12.7"/>
<ellipse class="yc" cx="19" cy="6" rx="5.3" ry="5.5"/>
<ellipse class="rc" cx="53.8" cy="104.7" rx="6" ry="7"/>
<rect x="52.5" y="104" width="3" height="1.5" fill="#ffa000"/>
</svg>

<svg x="1434.5" y="686" width="198" height="153.5" viewBox="0 0 198 153.5">
<rect class="nv" width="198" height="153.5"/>
<ellipse class="rc" cx="53.7" cy="104.7" rx="6" ry="7"/>
<rect x="52.7" y="104" width="2" height="2" fill="#40c0ff"/>
</svg>

<!-- colorbars -->
<g stroke="#8a8a8a" stroke-width=".8" fill="url(#jet)">
<rect x="1635" y="60" width="16" height="153.5"/>
<rect x="1635" y="216.5" width="16" height="153.5"/>
<rect x="1635" y="373" width="16" height="153.5"/>
<rect x="1635" y="529.5" width="16" height="153.5"/>
<rect x="1635" y="686" width="16" height="153.5"/>
</g>
<g stroke="#555" stroke-width=".8" fill="none" opacity=".7">
<path d="M1635,72.8h3.5m-3.5,12.8h3.5m-3.5,12.8h3.5m-3.5,12.8h3.5m-3.5,12.8h3.5m-3.5,12.8h3.5m-3.5,12.8h3.5m-3.5,12.8h3.5m-3.5,12.8h3.5m-3.5,12.8h3.5m-3.5,12.8h3.5"/>
<path d="M1635,229.3h3.5m-3.5,12.8h3.5m-3.5,12.8h3.5m-3.5,12.8h3.5m-3.5,12.8h3.5m-3.5,12.8h3.5m-3.5,12.8h3.5m-3.5,12.8h3.5m-3.5,12.8h3.5m-3.5,12.8h3.5m-3.5,12.8h3.5"/>
<path d="M1635,385.8h3.5m-3.5,12.8h3.5m-3.5,12.8h3.5m-3.5,12.8h3.5m-3.5,12.8h3.5m-3.5,12.8h3.5m-3.5,12.8h3.5m-3.5,12.8h3.5m-3.5,12.8h3.5m-3.5,12.8h3.5m-3.5,12.8h3.5"/>
<path d="M1635,542.3h3.5m-3.5,12.8h3.5m-3.5,12.8h3.5m-3.5,12.8h3.5m-3.5,12.8h3.5m-3.5,12.8h3.5m-3.5,12.8h3.5m-3.5,12.8h3.5m-3.5,12.8h3.5m-3.5,12.8h3.5m-3.5,12.8h3.5"/>
<path d="M1635,698.8h3.5m-3.5,12.8h3.5m-3.5,12.8h3.5m-3.5,12.8h3.5m-3.5,12.8h3.5m-3.5,12.8h3.5m-3.5,12.8h3.5m-3.5,12.8h3.5m-3.5,12.8h3.5m-3.5,12.8h3.5m-3.5,12.8h3.5"/>
</g>
</svg>
</body></html>
